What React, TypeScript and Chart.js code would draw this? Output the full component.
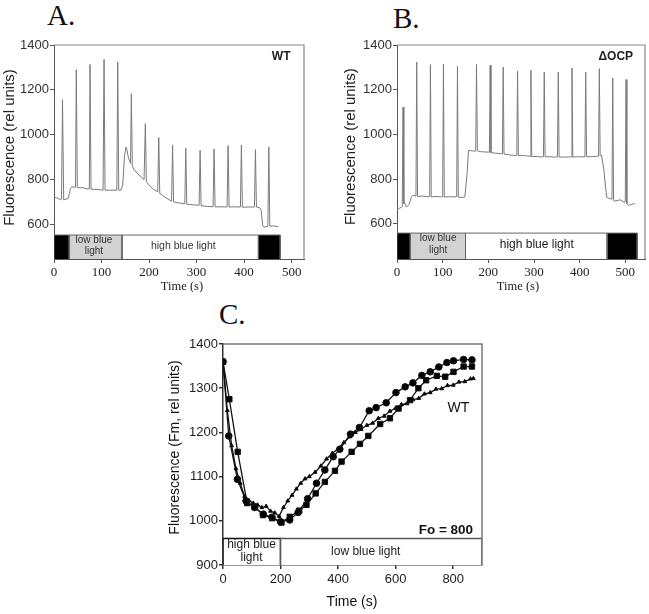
import React, { useEffect, useRef } from "react";
import { Chart, registerables } from "chart.js";

Chart.register(...registerables);

// ---------------- Panel A (WT) ----------------
const traceATime = [
  0, 5.3, 13.7, 15.8, 17.9, 20.4, 25.3, 30.1, 34.7, 37.9,
  45.3, 46.9, 49.1, 61, 68.8,
  74.3, 75.8, 77.9, 90.5, 103.2,
  105.3, 107.4, 117.9, 132.2,
  134.1, 136.2, 141, 144.6,
  148.4, 151.6, 153.7, 156.8, 161,
  162.7, 164.8, 168.4, 174.7, 181, 189.5,
  192.2, 194.3, 200, 208.4, 218.3,
  220.4, 222.5, 229.5, 237.9, 247.4,
  249.5, 251.6, 261, 275.2,
  277.3, 279.4, 290.5, 305.3,
  307.4, 309.5, 322, 334.7,
  336.8, 338.9, 351.6, 364.2,
  366.3, 368.4, 381, 392.2,
  394.3, 396.4, 408.4, 421.7,
  423.8, 425.9, 432.6, 435.8, 439, 442.1, 449.9,
  452, 454.1, 461, 471.6,
];
const traceAValue = [
  722, 718, 710, 712, 1156, 709, 712, 716, 761, 767,
  765, 1290, 763, 763, 758,
  758, 1313, 756, 756, 752,
  1336, 752, 752, 752,
  1324, 752, 752, 774,
  908, 945, 930, 894, 872,
  1183, 859, 845, 828, 816, 799,
  1049, 790, 776, 756, 745,
  987, 738, 727, 715, 703,
  954, 700, 696, 691,
  939, 689, 687, 685,
  930, 683, 680, 678,
  936, 678, 678, 677,
  951, 677, 678, 677,
  954, 676, 677, 677,
  933, 677, 674, 662, 596, 587, 591,
  945, 591, 593, 589,
];
const lightStartA = [0, 32, 143, 430];
const lightEndA = [32, 143, 430, 476];
const lightKindA = ["dark", "low", "high", "dark"];
const xTicksA = [0, 100, 200, 300, 400, 500];
const yTicksA = [600, 800, 1000, 1200, 1400];

// ---------------- Panel B (ΔOCP) ----------------
const traceBTime = [
  0, 5.9, 10.3, 11.5, 13.2, 15, 16.9, 20.6, 26.4, 31.5, 35,
  41.5, 43.2, 45, 55, 65, 71.5,
  73.2, 75, 85, 95, 100,
  101.7, 103.5, 115, 125, 130.7,
  132.4, 134.2, 140, 148.5, 153.5, 156.5, 165, 172.4,
  174.1, 176, 185, 195, 202.3,
  204, 205.8, 215, 225, 230.8,
  232.5, 234.3, 245, 255, 262.3,
  264, 265.8, 275, 285, 291.5,
  293.2, 295, 305, 315, 320.7,
  322.4, 324.2, 335, 345, 351.4,
  353.1, 354.9, 365, 375, 381.4,
  383.1, 384.9, 395, 405, 411.5,
  413.2, 415, 425, 435, 441.3,
  443, 444.8, 448, 453, 459, 466.4, 470.7,
  472.4, 474.2, 477.4, 488.4, 497, 499.8,
  501.5, 503.3, 506.6, 514, 521,
];
const traceBValue = [
  663, 670, 674, 676, 1122, 690, 692, 674, 686, 719, 727,
  724, 1324, 722, 724, 721, 722,
  1312, 720, 722, 720, 721,
  1315, 719, 721, 720, 721,
  1304, 719, 718, 719, 824, 928, 926, 925,
  1313, 926, 922, 921, 920,
  1309, 918, 916, 914, 913,
  1301, 912, 908, 906, 906,
  1283, 905, 906, 903, 902,
  1287, 901, 901, 899, 900,
  1278, 899, 900, 898, 899,
  1278, 898, 898, 899, 899,
  1297, 898, 900, 899, 900,
  1278, 900, 900, 901, 903,
  1294, 904, 906, 839, 719, 712, 710,
  1252, 703, 701, 707, 697, 698,
  1245, 690, 682, 686, 692,
];
const lightStartB = [0, 29, 150, 460];
const lightEndB = [29, 150, 460, 526];
const lightKindB = ["dark", "low", "high", "dark"];
const xTicksB = [0, 100, 200, 300, 400, 500];
const yTicksB = [600, 800, 1000, 1200, 1400];

// ---------------- Panel C (Fm, WT) ----------------
const circTime = [0, 20, 50, 80, 110, 140, 170, 200, 232, 261, 294, 325, 354, 383, 406, 443, 474, 508, 532, 567, 601, 633, 660, 691, 720, 750, 778, 801, 836, 865];
const circValue = [1360, 1192, 1094, 1045, 1030, 1015, 1008, 998, 1002, 1019, 1050, 1085, 1115, 1145, 1162, 1196, 1211, 1249, 1256, 1267, 1290, 1303, 1312, 1329, 1337, 1348, 1358, 1362, 1365, 1364];
const sqTime = [0, 22, 51, 84, 110, 139, 171, 203, 232, 265, 290, 322, 354, 389, 412, 447, 476, 505, 546, 580, 610, 650, 679, 706, 743, 772, 801, 836, 865];
const sqValue = [1360, 1275, 1156, 1040, 1032, 1013, 1006, 996, 1009, 1023, 1036, 1062, 1088, 1113, 1134, 1156, 1174, 1192, 1219, 1232, 1254, 1273, 1300, 1318, 1328, 1326, 1337, 1349, 1349];
const triTime = [0, 15, 30, 45, 60, 75, 90, 105, 120, 135, 150, 165, 180, 195, 210, 225, 240, 255, 270, 285, 300, 320, 340, 360, 380, 400, 420, 440, 460, 480, 500, 520, 540, 560, 580, 600, 620, 640, 660, 680, 700, 720, 740, 760, 780, 800, 820, 840, 860, 870];
const triValue = [1360, 1250, 1170, 1118, 1085, 1055, 1046, 1040, 1036, 1030, 1033, 1022, 1018, 1010, 1030, 1045, 1058, 1072, 1085, 1095, 1100, 1110, 1124, 1140, 1153, 1163, 1177, 1190, 1200, 1207, 1216, 1221, 1232, 1237, 1248, 1255, 1263, 1265, 1274, 1277, 1287, 1290, 1298, 1299, 1306, 1307, 1314, 1315, 1321, 1322];
const lightStartC = [0, 200];
const lightEndC = [200, 900];
const xTicksC = [0, 200, 400, 600, 800];
const yTicksC = [900, 1000, 1100, 1200, 1300, 1400];

// ---------------- helpers ----------------
const SANS = '"Liberation Sans", Arial, sans-serif';
const SERIF = '"Liberation Serif", "Times New Roman", serif';
const kindFill: Record<string, string> = { dark: "#000000", low: "#d2d2d2", high: "#ffffff" };

function toXY(xs: number[], ys: number[]) {
  return xs.map((x, i) => ({ x, y: ys[i] }));
}

function barDataset(x0: number, x1: number, yMin: number, yTop: number, fill: string, stroke: string, width: number) {
  return {
    type: "line" as const,
    data: [
      { x: x0, y: yMin },
      { x: x0, y: yTop },
      { x: x1, y: yTop },
      { x: x1, y: yMin },
    ],
    fill: "start",
    backgroundColor: fill,
    borderColor: stroke,
    borderWidth: width,
    pointRadius: 0,
    tension: 0,
    order: 5,
  };
}

const annotatePlugin = {
  id: "annotate",
  afterDraw(chart: any, _args: any, opts: any) {
    const { ctx, chartArea, scales } = chart;
    ctx.save();
    if (opts.frame) {
      ctx.strokeStyle = opts.frame.color;
      ctx.lineWidth = opts.frame.width;
      ctx.beginPath();
      ctx.moveTo(chartArea.left, chartArea.top);
      ctx.lineTo(chartArea.right, chartArea.top);
      ctx.lineTo(chartArea.right, chartArea.bottom);
      ctx.stroke();
    }
    for (const it of opts.labels || []) {
      ctx.font = it.font;
      ctx.fillStyle = it.color || "#222";
      ctx.textAlign = it.align || "center";
      ctx.textBaseline = "middle";
      const px = scales.x.getPixelForValue(it.x);
      const py = scales.y.getPixelForValue(it.y);
      const lines = String(it.text).split("\n");
      lines.forEach((l: string, i: number) => {
        ctx.fillText(l, px, py + (i - (lines.length - 1) / 2) * (it.lh || 12));
      });
    }
    for (const t of opts.titles || []) {
      ctx.save();
      ctx.font = t.font;
      ctx.fillStyle = t.color || "#222";
      ctx.textAlign = "center";
      ctx.textBaseline = "middle";
      ctx.translate(t.cx, t.cy);
      if (t.vertical) ctx.rotate(-Math.PI / 2);
      ctx.fillText(t.text, 0, 0);
      ctx.restore();
    }
    ctx.restore();
  },
};

type Rect = { x: number; y: number; w: number; h: number };

function axisCommon(color: string, width: number, tickFont: any, tickColor: string, pad: number) {
  return {
    type: "linear" as const,
    grid: { display: true, drawOnChartArea: false, drawTicks: true, tickLength: 4, color, lineWidth: width },
    border: { display: true, color, width },
    ticks: {
      font: tickFont,
      color: tickColor,
      padding: pad,
      autoSkip: false,
      maxRotation: 0,
      callback: (v: any) => String(v),
    },
  };
}

function makeTraceConfig(p: {
  rect: Rect; area: { l: number; t: number; r: number; b: number };
  time: number[]; value: number[];
  starts: number[]; ends: number[]; kinds: string[];
  xMax: number; yMin: number; barTop: number;
  xTicks: number[]; yTicks: number[];
  labels: any[]; titles: any[];
}) {
  const { rect, area } = p;
  const bars = p.starts.map((s, i) => barDataset(s, p.ends[i], p.yMin, p.barTop, kindFill[p.kinds[i]], "#666666", 1));
  const x = axisCommon("#555555", 1, { family: SERIF, size: 13 }, "#222", 2);
  const y = axisCommon("#555555", 1, { family: SANS, size: 13 }, "#333", 1);
  return {
    type: "line" as const,
    data: {
      datasets: [
        {
          data: toXY(p.time, p.value),
          borderColor: "#7a7a7a",
          borderWidth: 1,
          pointRadius: 0,
          tension: 0,
          fill: false,
          order: 1,
        },
        ...bars,
      ],
    },
    options: {
      responsive: false,
      maintainAspectRatio: false,
      animation: false,
      events: [],
      layout: { padding: { top: area.t - rect.y, right: rect.x + rect.w - area.r, left: 0, bottom: 0 } },
      plugins: {
        legend: { display: false },
        tooltip: { enabled: false },
        annotate: { frame: { color: "#888888", width: 1.2 }, labels: p.labels, titles: p.titles },
      },
      scales: {
        x: {
          ...x,
          min: 0,
          max: p.xMax,
          afterBuildTicks: (s: any) => { s.ticks = p.xTicks.map((v) => ({ value: v })); },
          afterFit: (s: any) => { s.height = rect.y + rect.h - area.b; },
        },
        y: {
          ...y,
          min: p.yMin,
          max: 1400,
          afterBuildTicks: (s: any) => { s.ticks = p.yTicks.map((v) => ({ value: v })); },
          afterFit: (s: any) => { s.width = area.l - rect.x; },
        },
      },
    },
    plugins: [annotatePlugin],
  };
}

const rectA: Rect = { x: 0, y: 36, w: 308, h: 256 };
const areaA = { l: 54, t: 45, r: 304, b: 259 };
const rectB: Rect = { x: 340, y: 36, w: 309, h: 256 };
const areaB = { l: 397, t: 45, r: 645, b: 259 };
const rectC: Rect = { x: 160, y: 330, w: 335, h: 284 };
const areaC = { l: 223, t: 344, r: 482, b: 565 };

function configA() {
  return makeTraceConfig({
    rect: rectA, area: areaA,
    time: traceATime, value: traceAValue,
    starts: lightStartA, ends: lightEndA, kinds: lightKindA,
    xMax: 526, yMin: 445, barTop: 552,
    xTicks: xTicksA, yTicks: yTicksA,
    labels: [
      { text: "WT", x: 478, y: 1348, font: `bold 12px ${SANS}`, color: "#222" },
      { text: "low blue\nlight", x: 84, y: 504, font: `10px ${SANS}`, color: "#333", lh: 11.5 },
      { text: "high blue light", x: 272, y: 501, font: `10.5px ${SANS}`, color: "#333" },
    ],
    titles: [
      { text: "Fluorescence (rel units)", cx: 10, cy: 111.5, vertical: true, font: `15px ${SANS}`, color: "#222" },
      { text: "Time (s)", cx: 182, cy: 250.7, font: `12.5px ${SERIF}`, color: "#222" },
    ],
  });
}

function configB() {
  return makeTraceConfig({
    rect: rectB, area: areaB,
    time: traceBTime, value: traceBValue,
    starts: lightStartB, ends: lightEndB, kinds: lightKindB,
    xMax: 543, yMin: 442, barTop: 558,
    xTicks: xTicksB, yTicks: yTicksB,
    labels: [
      { text: "\u0394OCP", x: 479, y: 1348, font: `bold 12px ${SANS}`, color: "#222" },
      { text: "low blue\nlight", x: 90, y: 508, font: `10px ${SANS}`, color: "#333", lh: 11.7 },
      { text: "high blue light", x: 306, y: 508, font: `12px ${SANS}`, color: "#222" },
    ],
    titles: [
      { text: "Fluorescence (rel units)", cx: 11, cy: 110.7, vertical: true, font: `15px ${SANS}`, color: "#222" },
      { text: "Time (s)", cx: 178, cy: 250.7, font: `12.5px ${SERIF}`, color: "#222" },
    ],
  });
}

function configC() {
  const rect = rectC;
  const area = areaC;
  const x = axisCommon("#333333", 1.5, { family: SANS, size: 13 }, "#222", 3);
  const y = axisCommon("#333333", 1.5, { family: SANS, size: 13 }, "#222", 1);
  const series = (xs: number[], ys: number[], style: string, r: number) => ({
    data: toXY(xs, ys),
    borderColor: "#111",
    backgroundColor: "#000",
    borderWidth: 1.3,
    pointStyle: style,
    pointRadius: r,
    pointBorderWidth: 1,
    tension: 0,
    fill: false,
    order: 1,
  });
  return {
    type: "line" as const,
    data: {
      datasets: [
        series(triTime, triValue, "triangle", 2.2),
        series(circTime, circValue, "circle", 3.3),
        series(sqTime, sqValue, "rect", 3.8),
        barDataset(lightStartC[1], lightEndC[1], 900, 960, "#ffffff", "#555555", 1.5),
        barDataset(lightStartC[0], lightEndC[0], 900, 960, "#ffffff", "#111111", 1.6),
      ],
    },
    options: {
      responsive: false,
      maintainAspectRatio: false,
      animation: false,
      events: [],
      layout: { padding: { top: area.t - rect.y, right: rect.x + rect.w - area.r, left: 0, bottom: 0 } },
      plugins: {
        legend: { display: false },
        tooltip: { enabled: false },
        annotate: {
          frame: { color: "#777777", width: 1.5 },
          labels: [
            { text: "WT", x: 818, y: 1255, font: `14px ${SANS}`, color: "#111" },
            { text: "Fo = 800", x: 869, y: 979, font: `bold 13.5px ${SANS}`, color: "#111", align: "right" },
            { text: "high blue\nlight", x: 99, y: 932, font: `12px ${SANS}`, color: "#222", lh: 12.7 },
            { text: "low blue light", x: 496, y: 930, font: `12px ${SANS}`, color: "#222" },
          ],
          titles: [
            { text: "Fluorescence (Fm, rel units)", cx: 15, cy: 117.5, vertical: true, font: `14px ${SANS}`, color: "#111" },
            { text: "Time (s)", cx: 192, cy: 271.7, font: `14px ${SANS}`, color: "#111" },
          ],
        },
      },
      scales: {
        x: {
          ...x,
          min: 0,
          max: 900,
          afterBuildTicks: (s: any) => { s.ticks = xTicksC.map((v) => ({ value: v })); },
          afterFit: (s: any) => { s.height = rect.y + rect.h - area.b; },
        },
        y: {
          ...y,
          min: 900,
          max: 1400,
          afterBuildTicks: (s: any) => { s.ticks = yTicksC.map((v) => ({ value: v })); },
          afterFit: (s: any) => { s.width = area.l - rect.x; },
        },
      },
    },
    plugins: [annotatePlugin],
  };
}

function Panel({ rect, make }: { rect: Rect; make: () => any }) {
  const ref = useRef<HTMLCanvasElement>(null);
  useEffect(() => {
    const chart = new Chart(ref.current as HTMLCanvasElement, make());
    return () => chart.destroy();
  }, []);
  return (
    <canvas
      ref={ref}
      width={rect.w}
      height={rect.h}
      style={{ position: "absolute", left: rect.x, top: rect.y, width: rect.w, height: rect.h }}
    />
  );
}

const letterStyle = (left: number, top: number): React.CSSProperties => ({
  position: "absolute",
  left,
  top,
  fontFamily: SERIF,
  fontSize: 29,
  lineHeight: "29px",
  color: "#111",
});

export default function App() {
  return (
    <div style={{ position: "absolute", left: 0, top: 0, width: 649, height: 614, background: "#fff", overflow: "hidden" }}>
      <Panel rect={rectA} make={configA} />
      <Panel rect={rectB} make={configB} />
      <Panel rect={rectC} make={configC} />
      <div style={letterStyle(47, 1)}>A.</div>
      <div style={letterStyle(393, 4)}>B.</div>
      <div style={letterStyle(219, 300)}>C.</div>
    </div>
  );
}
